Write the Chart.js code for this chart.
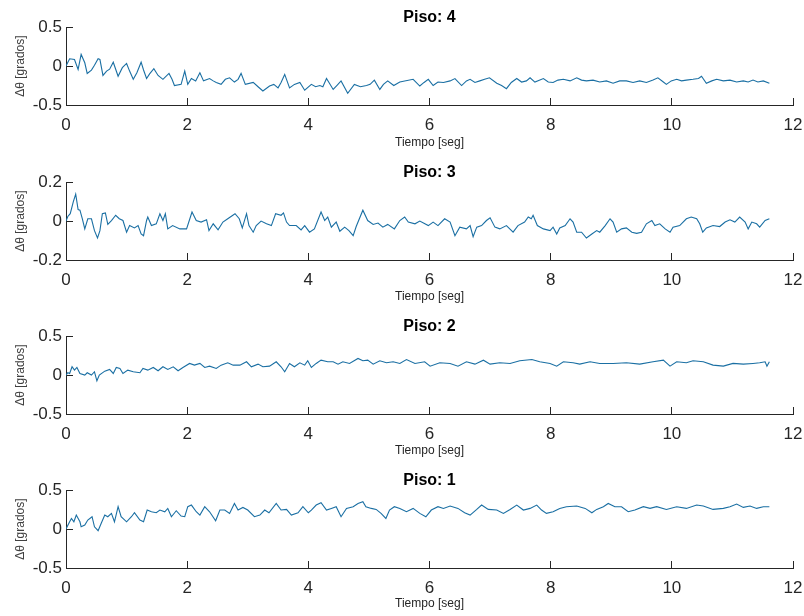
<!DOCTYPE html>
<html>
<head>
<meta charset="utf-8">
<script src="https://cdn.jsdelivr.net/npm/chart.js@4.4.0/dist/chart.umd.min.js"></script>
<style>
  body { margin: 0; background: #fff; width: 804px; height: 616px; position: relative; overflow: hidden; }
  .panel { position: absolute; left: 0; width: 804px; }
</style>
</head>
<body>
<div class="panel" style="top:0px"><canvas id="piso4" width="804" height="155"></canvas></div>
<div class="panel" style="top:155px"><canvas id="piso3" width="804" height="154"></canvas></div>
<div class="panel" style="top:309px"><canvas id="piso2" width="804" height="154"></canvas></div>
<div class="panel" style="top:463px"><canvas id="piso1" width="804" height="153"></canvas></div>
<script>
// Datos: tiempo [seg] y variacion de angulo [grados]
const tPiso4 = [0, 0.06, 0.14, 0.20, 0.25, 0.31, 0.35, 0.42, 0.47, 0.53, 0.56, 0.61, 0.67, 0.72, 0.78, 0.86, 0.93, 1.00, 1.05, 1.11,
  1.17, 1.24, 1.28, 1.33, 1.38, 1.45, 1.52, 1.60, 1.70, 1.75, 1.79, 1.90, 1.96, 2.01, 2.07, 2.14, 2.21, 2.27, 2.37, 2.43,
  2.48, 2.56, 2.63, 2.70, 2.78, 2.84, 2.89, 2.96, 3.09, 3.17, 3.25, 3.36, 3.43, 3.50, 3.55, 3.61, 3.69, 3.77, 3.86, 3.94,
  4.05, 4.12, 4.19, 4.24, 4.30, 4.41, 4.47, 4.54, 4.65, 4.76, 4.86, 4.96, 5.02, 5.09, 5.18, 5.24, 5.31, 5.41, 5.51, 5.73,
  5.84, 5.91, 5.98, 6.06, 6.14, 6.23, 6.34, 6.42, 6.53, 6.61, 6.67, 6.75, 6.83, 6.91, 6.99, 7.11, 7.19, 7.27, 7.35, 7.44,
  7.52, 7.60, 7.66, 7.74, 7.88, 7.96, 8.04, 8.12, 8.21, 8.32, 8.43, 8.51, 8.59, 8.70, 8.81, 8.92, 9.03, 9.14, 9.25, 9.36,
  9.47, 9.58, 9.69, 9.77, 9.86, 9.91, 9.99, 10.08, 10.16, 10.24, 10.35, 10.44, 10.49, 10.57, 10.66, 10.74, 10.85, 10.96, 11.07, 11.18,
  11.26, 11.34, 11.42, 11.51, 11.61];
const piso4 = [0, 0.094, 0.085, -0.043, 0.15, 0.043, -0.094, -0.051, 0.01, 0.094, 0.085, -0.12, -0.064, -0.04, 0.05, -0.13, -0.02, 0.034, -0.064, -0.17,
  -0.085, 0.05, -0.05, -0.16, -0.10, -0.034, -0.12, -0.17, -0.094, -0.17, -0.25, -0.235, -0.064, -0.235, -0.16, -0.19, -0.085, -0.19, -0.16, -0.19,
  -0.21, -0.235, -0.17, -0.15, -0.205, -0.17, -0.094, -0.235, -0.21, -0.265, -0.32, -0.256, -0.235, -0.28, -0.21, -0.107, -0.28, -0.235, -0.21, -0.31,
  -0.235, -0.265, -0.25, -0.265, -0.16, -0.30, -0.25, -0.19, -0.35, -0.235, -0.265, -0.25, -0.235, -0.18, -0.30, -0.235, -0.19, -0.25, -0.205, -0.17,
  -0.256, -0.21, -0.17, -0.25, -0.205, -0.21, -0.19, -0.16, -0.25, -0.19, -0.17, -0.21, -0.19, -0.17, -0.15, -0.22, -0.25, -0.29, -0.21, -0.16,
  -0.205, -0.19, -0.15, -0.205, -0.16, -0.205, -0.21, -0.18, -0.17, -0.19, -0.15, -0.18, -0.19, -0.18, -0.205, -0.19, -0.22, -0.19, -0.19, -0.21,
  -0.19, -0.21, -0.18, -0.15, -0.205, -0.235, -0.19, -0.17, -0.19, -0.18, -0.17, -0.16, -0.13, -0.22, -0.19, -0.17, -0.19, -0.18, -0.205, -0.19,
  -0.205, -0.18, -0.205, -0.19, -0.22];

const tPiso3 = [0, 0.03, 0.07, 0.12, 0.16, 0.20, 0.23, 0.27, 0.31, 0.36, 0.42, 0.47, 0.52, 0.56, 0.60, 0.65, 0.69, 0.75, 0.82, 0.88,
  0.94, 1.00, 1.05, 1.13, 1.19, 1.24, 1.28, 1.33, 1.35, 1.41, 1.49, 1.55, 1.60, 1.64, 1.68, 1.76, 1.88, 1.99, 2.08, 2.15,
  2.23, 2.32, 2.36, 2.43, 2.51, 2.59, 2.67, 2.79, 2.86, 2.91, 2.98, 3.02, 3.09, 3.14, 3.22, 3.31, 3.39, 3.46, 3.55, 3.59,
  3.64, 3.69, 3.80, 3.88, 3.94, 4.02, 4.10, 4.21, 4.27, 4.32, 4.38, 4.46, 4.52, 4.60, 4.67, 4.74, 4.79, 4.90, 4.98, 5.07,
  5.15, 5.23, 5.31, 5.42, 5.51, 5.59, 5.65, 5.76, 5.84, 5.98, 6.06, 6.14, 6.25, 6.34, 6.42, 6.50, 6.61, 6.67, 6.72, 6.78,
  6.86, 6.94, 7.00, 7.08, 7.16, 7.27, 7.38, 7.46, 7.57, 7.63, 7.68, 7.71, 7.78, 7.88, 7.99, 8.04, 8.10, 8.15, 8.24, 8.32,
  8.37, 8.43, 8.51, 8.59, 8.68, 8.76, 8.81, 8.90, 8.98, 9.03, 9.09, 9.17, 9.25, 9.34, 9.42, 9.50, 9.58, 9.67, 9.72, 9.80,
  9.89, 9.97, 10.02, 10.13, 10.24, 10.32, 10.41, 10.46, 10.51, 10.57, 10.68, 10.79, 10.88, 10.96, 11.04, 11.12, 11.21, 11.26, 11.32, 11.40,
  11.45, 11.54, 11.61];
const piso3 = [0, 0.024, 0.038, 0.099, 0.139, 0.059, 0.056, 0.012, -0.04, 0.012, 0.012, -0.049, -0.087, -0.049, 0.038, 0.042, -0.017, 0.003, 0.03, 0.012,
  0.003, -0.057, -0.023, -0.035, -0.023, -0.066, -0.075, 0.003, 0.021, -0.023, -0.014, 0.038, 0.003, 0.038, -0.04, -0.023, -0.04, -0.04, 0.047, 0.003,
  -0.005, 0.007, -0.049, -0.014, -0.045, -0.005, 0.012, 0.038, 0.012, -0.035, 0.038, -0.023, -0.057, -0.023, 0, -0.014, -0.023, 0.038, 0.03, 0.042,
  -0.005, -0.023, -0.023, -0.045, -0.023, -0.057, -0.04, 0.047, 0.003, 0.021, -0.031, -0.005, -0.052, -0.031, -0.049, -0.075, -0.028, 0.056, 0.003, -0.017,
  -0.01, -0.031, -0.017, -0.04, 0.003, 0.021, -0.005, -0.014, 0, -0.023, -0.005, -0.023, 0.012, -0.005, -0.075, -0.031, -0.04, -0.023, -0.08, -0.031,
  -0.023, 0.003, 0.017, -0.031, -0.04, -0.023, -0.057, -0.023, -0.005, 0.021, 0.012, 0.03, -0.023, -0.04, -0.049, -0.031, -0.066, -0.035, -0.023, 0.012,
  -0.005, -0.057, -0.057, -0.087, -0.066, -0.049, -0.057, -0.023, 0.012, -0.005, -0.057, -0.04, -0.035, -0.057, -0.063, -0.057, -0.014, 0.003, -0.023, -0.014,
  -0.04, -0.057, -0.031, -0.023, 0.012, 0.021, 0.012, -0.014, -0.057, -0.035, -0.023, -0.028, -0.005, 0.007, -0.005, 0.021, -0.005, -0.04, -0.005, -0.014,
  -0.031, 0.003, 0.012];

const tPiso2 = [0, 0.03, 0.06, 0.10, 0.14, 0.18, 0.23, 0.31, 0.35, 0.42, 0.47, 0.51, 0.55, 0.64, 0.72, 0.78, 0.83, 0.89, 0.94, 1.02,
  1.11, 1.22, 1.27, 1.35, 1.44, 1.52, 1.60, 1.68, 1.77, 1.85, 1.93, 2.04, 2.12, 2.21, 2.29, 2.37, 2.48, 2.56, 2.67, 2.76,
  2.87, 2.98, 3.06, 3.17, 3.25, 3.36, 3.47, 3.55, 3.61, 3.69, 3.77, 3.86, 3.94, 3.99, 4.05, 4.13, 4.21, 4.32, 4.41, 4.49,
  4.57, 4.68, 4.82, 4.90, 4.98, 5.07, 5.18, 5.29, 5.40, 5.51, 5.62, 5.76, 5.92, 6.01, 6.17, 6.34, 6.47, 6.61, 6.75, 6.89,
  7.00, 7.16, 7.33, 7.49, 7.69, 7.82, 7.99, 8.10, 8.21, 8.37, 8.48, 8.65, 8.81, 9.03, 9.25, 9.47, 9.69, 9.86, 9.97, 10.08,
  10.24, 10.35, 10.52, 10.68, 10.85, 11.01, 11.18, 11.34, 11.45, 11.54, 11.57, 11.61];
const piso2 = [0, 0.03, 0.021, 0.107, 0.064, 0.098, 0.021, 0, 0.03, 0, 0.043, -0.073, 0, 0.051, 0.073, 0.021, 0.098, 0.085, 0.021, 0.064,
  0.043, 0.03, 0.085, 0.064, 0.098, 0.056, 0.107, 0.073, 0.107, 0.056, 0.098, 0.15, 0.128, 0.15, 0.098, 0.115, 0.085, 0.128, 0.158, 0.128,
  0.128, 0.171, 0.107, 0.141, 0.107, 0.115, 0.171, 0.107, 0.043, 0.15, 0.107, 0.158, 0.128, 0.184, 0.098, 0.15, 0.192, 0.171, 0.171, 0.141,
  0.171, 0.15, 0.214, 0.184, 0.192, 0.141, 0.184, 0.158, 0.171, 0.15, 0.20, 0.15, 0.171, 0.115, 0.158, 0.15, 0.115, 0.171, 0.141, 0.192,
  0.141, 0.158, 0.15, 0.184, 0.20, 0.171, 0.15, 0.115, 0.171, 0.158, 0.141, 0.171, 0.15, 0.15, 0.158, 0.141, 0.171, 0.192, 0.115, 0.171,
  0.158, 0.184, 0.171, 0.128, 0.115, 0.15, 0.141, 0.15, 0.158, 0.171, 0.115, 0.171];

const tPiso1 = [0, 0.06, 0.09, 0.13, 0.17, 0.23, 0.25, 0.31, 0.36, 0.43, 0.47, 0.53, 0.58, 0.64, 0.69, 0.75, 0.80, 0.86, 0.91, 1.00,
  1.08, 1.13, 1.22, 1.28, 1.34, 1.41, 1.49, 1.55, 1.63, 1.68, 1.74, 1.82, 1.90, 1.96, 2.01, 2.07, 2.15, 2.21, 2.29, 2.37,
  2.47, 2.54, 2.62, 2.70, 2.78, 2.84, 2.92, 3.00, 3.11, 3.20, 3.28, 3.35, 3.47, 3.55, 3.64, 3.72, 3.83, 3.91, 4.00, 4.05,
  4.13, 4.21, 4.30, 4.38, 4.46, 4.54, 4.63, 4.74, 4.82, 4.90, 4.95, 5.04, 5.12, 5.20, 5.28, 5.34, 5.42, 5.51, 5.62, 5.73,
  5.84, 5.94, 6.03, 6.14, 6.23, 6.34, 6.47, 6.58, 6.67, 6.78, 6.86, 6.97, 7.11, 7.22, 7.33, 7.44, 7.55, 7.66, 7.77, 7.85,
  7.93, 8.04, 8.15, 8.26, 8.43, 8.57, 8.68, 8.76, 8.87, 8.95, 9.06, 9.17, 9.28, 9.39, 9.53, 9.64, 9.75, 9.91, 10.08, 10.24,
  10.41, 10.52, 10.68, 10.85, 10.96, 11.07, 11.18, 11.29, 11.40, 11.51, 11.61];
const piso1 = [0, 0.094, 0.137, 0.094, 0.18, 0.094, 0.03, 0.052, 0.116, 0.159, 0.03, -0.021, 0.073, 0.18, 0.159, 0.202, 0.094, 0.288, 0.159, 0.094,
  0.159, 0.21, 0.116, 0.094, 0.245, 0.223, 0.21, 0.245, 0.223, 0.266, 0.159, 0.236, 0.167, 0.159, 0.288, 0.309, 0.223, 0.18, 0.288, 0.223,
  0.107, 0.245, 0.245, 0.202, 0.33, 0.245, 0.279, 0.245, 0.159, 0.18, 0.245, 0.21, 0.33, 0.245, 0.253, 0.18, 0.21, 0.288, 0.21, 0.245,
  0.309, 0.339, 0.245, 0.266, 0.288, 0.159, 0.266, 0.288, 0.33, 0.352, 0.288, 0.266, 0.253, 0.202, 0.137, 0.245, 0.288, 0.266, 0.223, 0.266,
  0.202, 0.159, 0.245, 0.288, 0.266, 0.296, 0.266, 0.21, 0.18, 0.253, 0.309, 0.253, 0.245, 0.202, 0.253, 0.309, 0.245, 0.266, 0.309, 0.245,
  0.202, 0.223, 0.266, 0.288, 0.296, 0.266, 0.21, 0.253, 0.288, 0.33, 0.288, 0.288, 0.223, 0.245, 0.288, 0.266, 0.288, 0.253, 0.288, 0.266,
  0.309, 0.296, 0.253, 0.266, 0.288, 0.322, 0.279, 0.296, 0.266, 0.288, 0.288];

const ticksX = [0, 2, 4, 6, 8, 10, 12];

Chart.defaults.font.family = "'Liberation Sans', Arial, sans-serif";
Chart.defaults.color = '#262626';

const colorLinea = '#1a6fa3';
const colorEje = '#262626';

// Crea un subgrafico tipo MATLAB (sin caja, marcas hacia dentro)
function creaSubgrafico(id, titulo, tiempos, valores, yMin, yMax) {
    const canvas = document.getElementById(id);
    const altoCanvas = canvas.height;
    const puntos = tiempos.map((t, i) => ({ x: t, y: valores[i] }));

    new Chart(canvas.getContext('2d'), {
        type: 'line',
        data: {
            datasets: [{
                data: puntos,
                borderColor: colorLinea,
                borderWidth: 1.1,
                pointRadius: 0,
                tension: 0,
                fill: false
            }]
        },
        options: {
            responsive: false,
            animation: false,
            layout: { padding: { left: 0, right: 11, top: 0, bottom: 0 } },
            plugins: {
                legend: { display: false },
                tooltip: { enabled: false },
                title: {
                    display: true,
                    text: titulo,
                    fullSize: false,
                    color: '#000',
                    font: { size: 16, weight: 'bold' },
                    padding: { top: 8, bottom: 0 }
                }
            },
            scales: {
                x: {
                    type: 'linear',
                    min: 0,
                    max: 12,
                    afterBuildTicks: s => { s.ticks = ticksX.map(v => ({ value: v })); },
                    afterFit: s => {
                        s.height = altoCanvas - 105;
                        s.paddingRight = 0;
                        s.paddingLeft = 0;
                    },
                    grid: { drawOnChartArea: false, drawTicks: true, tickLength: -7, tickColor: colorEje },
                    border: { display: true, color: colorEje, width: 1 },
                    ticks: { font: { size: 17 }, color: colorEje, padding: 17, maxRotation: 0 },
                    title: {
                        display: true,
                        text: 'Tiempo [seg]',
                        font: { size: 12 },
                        color: colorEje,
                        padding: { top: 0, bottom: 5 }
                    }
                },
                y: {
                    type: 'linear',
                    min: yMin,
                    max: yMax,
                    afterBuildTicks: s => { s.ticks = [yMin, 0, yMax].map(v => ({ value: v })); },
                    afterFit: s => { s.width = 66; },
                    grid: { drawOnChartArea: false, drawTicks: true, tickLength: -7, tickColor: colorEje },
                    border: { display: true, color: colorEje, width: 1 },
                    ticks: {
                        font: { size: 17 },
                        color: colorEje,
                        padding: 11,
                        callback: v => (Math.round(v * 10) / 10).toString()
                    },
                    title: {
                        display: true,
                        text: 'Δθ [grados]',
                        font: { size: 12 },
                        color: '#404040',
                        padding: { top: 13, bottom: 0 }
                    }
                }
            }
        }
    });
}

creaSubgrafico('piso4', 'Piso: 4', tPiso4, piso4, -0.5, 0.5);
creaSubgrafico('piso3', 'Piso: 3', tPiso3, piso3, -0.2, 0.2);
creaSubgrafico('piso2', 'Piso: 2', tPiso2, piso2, -0.5, 0.5);
creaSubgrafico('piso1', 'Piso: 1', tPiso1, piso1, -0.5, 0.5);
</script>
</body>
</html>
